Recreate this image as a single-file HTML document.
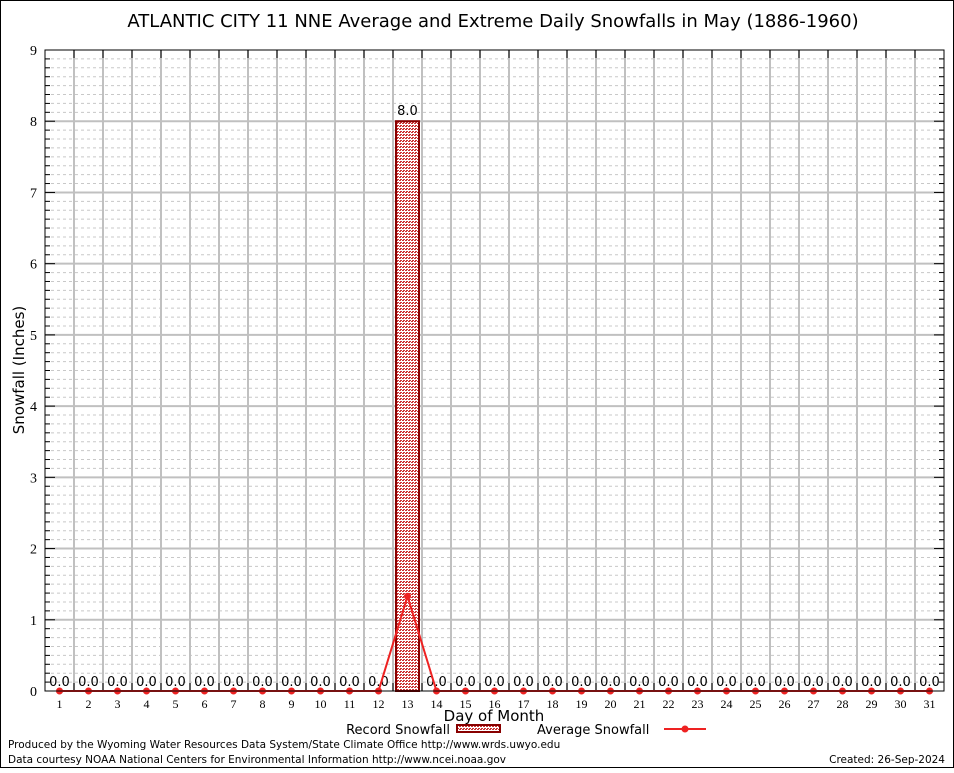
<!DOCTYPE html>
<html><head><meta charset="utf-8"><style>
body{margin:0;background:#fff;width:954px;height:768px;overflow:hidden}
svg text{font-family:"DejaVu Sans","Liberation Sans",sans-serif}
svg text.sr{font-family:"Liberation Serif",serif}
</style></head><body>
<svg id="s" width="954" height="768" xmlns="http://www.w3.org/2000/svg">
<defs><pattern id="p" width="3" height="3" patternUnits="userSpaceOnUse"><rect width="3" height="3" fill="#fff"/><rect width="2" height="1" fill="#c33"/><rect x="1" y="2" width="2" height="1" fill="#c33"/></pattern></defs>
<rect x="0.5" y="0.5" width="953" height="767" fill="#fff" stroke="#000"/>
<text x="493" y="27" font-size="18" text-anchor="middle">ATLANTIC CITY 11 NNE Average and Extreme Daily Snowfalls in May (1886-1960)</text>
<g id="g"></g>
<text transform="translate(24,370) rotate(-90)" font-size="15" text-anchor="middle">Snowfall (Inches)</text>
<text x="494" y="721" font-size="15" text-anchor="middle">Day of Month</text>
<text x="450" y="734" font-size="13" text-anchor="end">Record Snowfall</text>
<rect x="457" y="725" width="43" height="7" fill="url(#p)" stroke="#800" stroke-width="2"/>
<text x="537" y="734" font-size="13">Average Snowfall</text>
<line x1="664" y1="729" x2="706" y2="729" stroke="#e22" stroke-width="2"/><circle cx="685" cy="729" r="3.5" fill="#e22"/>
<text x="8" y="748" font-size="10.5">Produced by the Wyoming Water Resources Data System/State Climate Office http://www.wrds.uwyo.edu</text>
<text x="8" y="763" font-size="10.5">Data courtesy NOAA National Centers for Environmental Information http://www.ncei.noaa.gov</text>
<text x="945" y="763" font-size="10.5" text-anchor="end">Created:  26-Sep-2024</text>
</svg>
<script>
var g=document.getElementById('g'),h='';
var L=45,R=944,T=50,B=691,u=(B-T)/9,d=29;
for(var i=0;i<72;i++){var y=B-i*u/8;if(i%8)h+='<line x1="'+L+'" x2="'+R+'" y1="'+y+'" y2="'+y+'" stroke="#c8c8c8" stroke-dasharray="3,3"/>';}
for(var k=1;k<31;k++){var x=L+k*d;h+='<line x1="'+x+'" x2="'+x+'" y1="'+T+'" y2="'+B+'" stroke="#c0c0c0" stroke-width="2"/>';h+='<line x1="'+x+'" x2="'+x+'" y1="'+T+'" y2="'+(T+8)+'" stroke="#000"/><line x1="'+x+'" x2="'+x+'" y1="'+B+'" y2="'+(B-8)+'" stroke="#000"/>';}
for(var j=0;j<=9;j++){var y=B-j*u;if(j>0&&j<9)h+='<line x1="'+L+'" x2="'+R+'" y1="'+y+'" y2="'+y+'" stroke="#c0c0c0" stroke-width="2"/>';h+='<line x1="'+L+'" x2="'+(L+10)+'" y1="'+y+'" y2="'+y+'" stroke="#000"/><line x1="'+R+'" x2="'+(R-10)+'" y1="'+y+'" y2="'+y+'" stroke="#000"/>';
 h+='<text class="sr" x="37" y="'+(y+5)+'" font-size="14" text-anchor="end">'+j+'</text>';
 for(var m=1;m<8&&j<9;m++){var yy=y-m*u/8;h+='<line x1="'+L+'" x2="'+(L+5)+'" y1="'+yy+'" y2="'+yy+'" stroke="#000"/><line x1="'+R+'" x2="'+(R-5)+'" y1="'+yy+'" y2="'+yy+'" stroke="#000"/>';}}
h+='<rect x="396" y="'+(B-8*u)+'" width="23" height="'+(8*u)+'" fill="url(#p)" stroke="#800" stroke-width="2"/>';
h+='<text x="407.5" y="'+(B-8*u-6)+'" font-size="13" text-anchor="middle">8.0</text>';
var pts=[];for(var k=1;k<=31;k++){var x=L+d*(k-0.5);var v=k==13?1.33:0;pts.push(x+','+(B-v*u));
 h+='<text class="sr" x="'+x+'" y="708" font-size="12" text-anchor="middle">'+k+'</text>';
 if(k!=13)h+='<text x="'+x+'" y="686" font-size="13" text-anchor="middle">0.0</text>';}
h+='<polyline points="'+pts.join(' ')+'" fill="none" stroke="#e22" stroke-width="2"/>';
pts.forEach(function(p){var a=p.split(',');h+='<circle cx="'+a[0]+'" cy="'+a[1]+'" r="3.5" fill="#e22"/>';});
h+='<rect x="'+L+'" y="'+T+'" width="'+(R-L)+'" height="'+(B-T)+'" fill="none" stroke="#000"/>';
g.innerHTML=h;
</script>
</body></html>
